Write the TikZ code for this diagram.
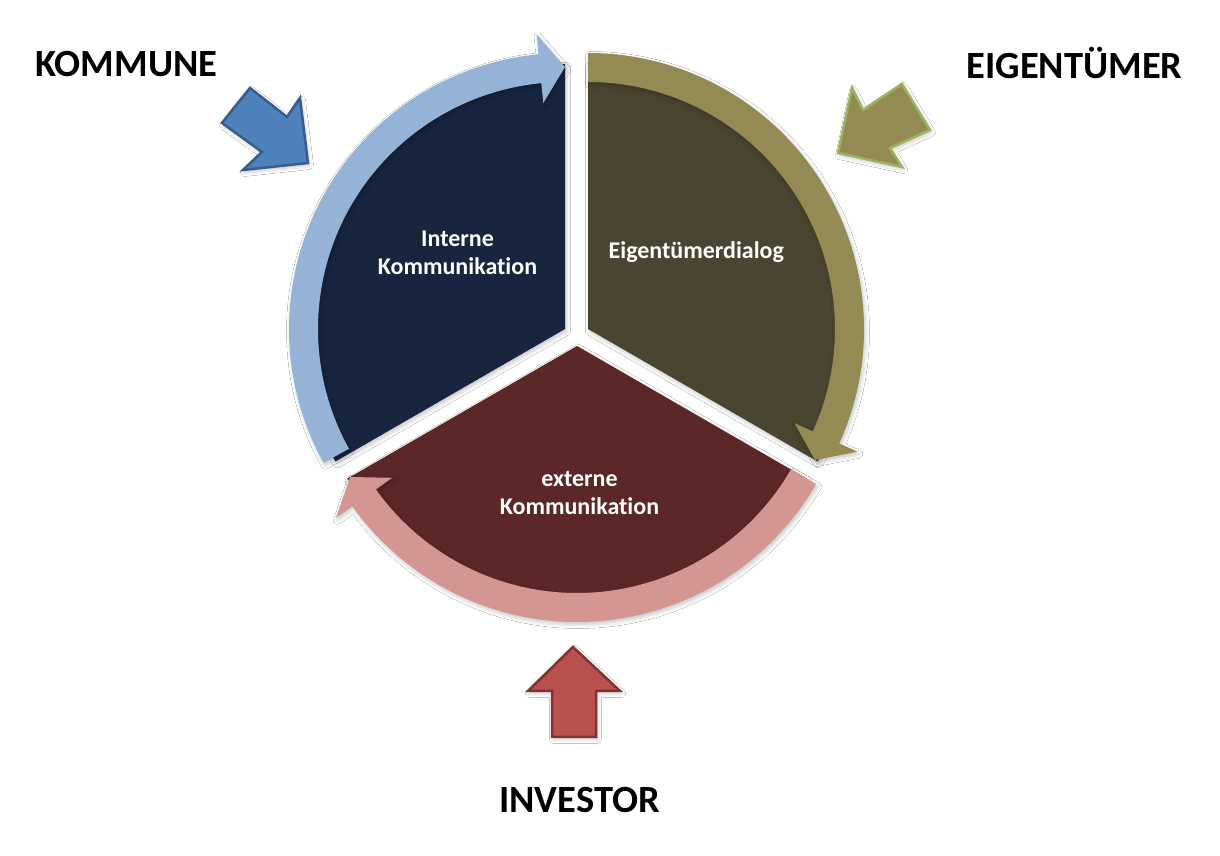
\documentclass[tikz,border=0pt]{standalone}
\usepackage{fontspec}
\setmainfont{Carlito}[Ligatures={NoCommon}]
\usetikzlibrary{calc,shadows.blur}
\definecolor{navyS}{HTML}{17253F}
\definecolor{oliveS}{HTML}{4A4530}
\definecolor{redS}{HTML}{5C2727}
\definecolor{blueBand}{HTML}{95B3D7}
\definecolor{oliveBand}{HTML}{948A54}
\definecolor{pinkBand}{HTML}{D49693}
\definecolor{blueArrow}{HTML}{4F81BD}
\definecolor{blueEdge}{HTML}{385D8A}
\definecolor{oliveArrow}{HTML}{948A54}
\definecolor{oliveEdge}{HTML}{9BB25E}
\definecolor{redArrow}{HTML}{B9524E}
\definecolor{redEdge}{HTML}{83332F}
\tikzset{
  softshadow/.style={blur shadow={shadow xshift=1.5pt, shadow yshift=-2.5pt, shadow blur radius=4pt, shadow opacity=22}},
  inlabel/.style={text=white, font=\bfseries\fontsize{24}{27.6}\selectfont, align=center, anchor=base, inner sep=0pt},
  outlabel/.style={text=black, font=\bfseries\fontsize{38.5}{40}\selectfont, anchor=base, inner sep=0pt},
  blockarrow/.style={line width=2.5pt, line join=miter, softshadow}
}
\newcommand{\bandarrow}[4]{%
  \fill[#4, softshadow] ($(#1)+(#2:247)$) arc[start angle=#2, end angle=#3+5.5, radius=247]
    -- ($(#1)+(#3+5.5:227)$) -- ($(#1)+(#3:262)$) -- ($(#1)+(#3+5.5:296)$)
    -- ($(#1)+(#3+5.5:276)$) arc[start angle=#3+5.5, end angle=#2, radius=276] -- cycle;}
\begin{document}
\begin{tikzpicture}[x=1pt,y=1pt]
\useasboundingbox (0,0) rectangle (1220,856);
\fill[white] (0,0) rectangle (1220,856);
\coordinate (P1) at (565,527);
\coordinate (P2) at (588,527);
\coordinate (P3) at (577,510);
% sectors
\fill[navyS, softshadow] (P1) -- ($(P1)+(90:265)$) arc[start angle=90, end angle=210, radius=265] -- cycle;
\fill[oliveS, softshadow] (P2) -- ($(P2)+(90:265)$) arc[start angle=90, end angle=-30, radius=265] -- cycle;
\fill[redS, softshadow] (P3) -- ($(P3)+(-30:265)$) arc[start angle=-30, end angle=-150, radius=265] -- cycle;
% circular band arrows
\bandarrow{P3}{-30}{-150}{pinkBand}
\bandarrow{P1}{209}{90}{blueBand}
\bandarrow{P2}{90}{-30}{oliveBand}
% side block arrows
\draw[blockarrow, fill=blueArrow, draw=blueEdge] (250,768) -- (287,739) -- (300,758) -- (308,693) -- (243,686) -- (262,704) -- (222,733) -- cycle;
\draw[blockarrow, fill=oliveArrow, draw=oliveEdge] (852,768) -- (863,746) -- (902,772) -- (930,726) -- (890,708) -- (902,689) -- (838,703) -- cycle;
\draw[blockarrow, fill=redArrow, draw=redEdge] (573,209) -- (620,165) -- (596,165) -- (596,119) -- (552,119) -- (552,165) -- (528,165) -- cycle;
% labels (base anchor = baseline of the last line)
\node[inlabel] (intern) at (457.5,581.7) {Interne\\Kommunikation};
\node[inlabel] (eigdia) at (696.3,597) {Eigentümerdialog};
\node[inlabel] (extern) at (579.5,341.7) {externe\\Kommunikation};
\node[outlabel] (kommune) at (126.5,779) {KOMMUNE};
\node[outlabel] (eigentuemer) at (1074.5,777) {EIGENTÜMER};
\node[outlabel] (investor) at (579.5,43) {INVESTOR};
\end{tikzpicture}
\end{document}
